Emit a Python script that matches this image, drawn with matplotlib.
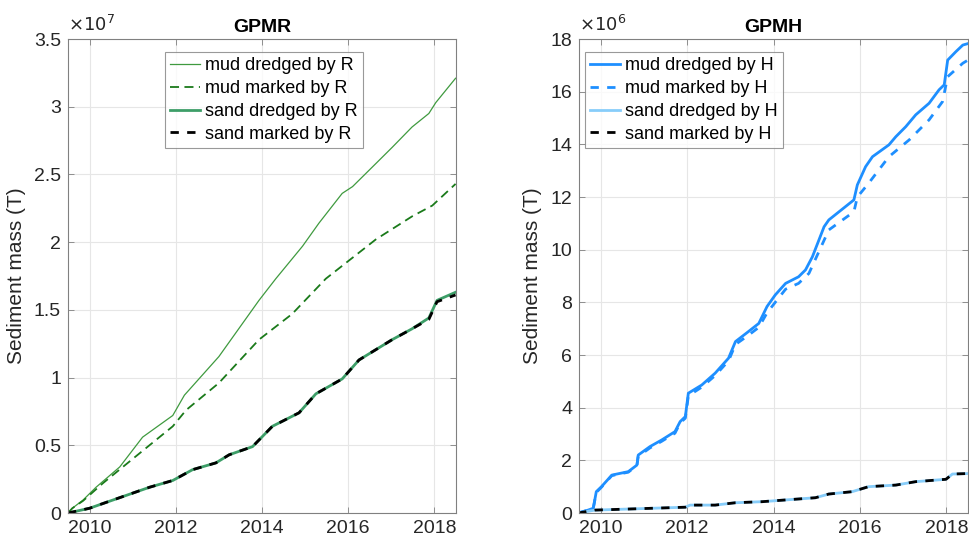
import matplotlib
matplotlib.use("Agg")
import matplotlib.pyplot as plt
import numpy as np

plt.rcParams['font.family'] = ['Liberation Sans', 'DejaVu Sans']

# ---------------- GPMR data (units of 1e7 T) ----------------
r_mud_dredged_t = [2009.5, 2009.6, 2009.85, 2010.15, 2010.7, 2011.23, 2011.93, 2012.2, 2013.0,
                   2013.93, 2014.32, 2014.94, 2015.32, 2015.86, 2016.1, 2016.64, 2017.02,
                   2017.48, 2017.87, 2018.03, 2018.49]
r_mud_dredged = [0, 0.035, 0.096, 0.19, 0.34, 0.56, 0.72, 0.87, 1.155,
                 1.57, 1.73, 1.97, 2.14, 2.36, 2.41, 2.58, 2.70,
                 2.85, 2.95, 3.03, 3.21]
r_mud_marked_t = [2009.5, 2009.6, 2009.85, 2010.31, 2011.08, 2011.93, 2012.24, 2013.0, 2013.93,
                  2014.7, 2015.48, 2016.64, 2017.48, 2017.95, 2018.49]
r_mud_marked = [0, 0.035, 0.09, 0.22, 0.42, 0.64, 0.76, 0.96, 1.28,
                1.47, 1.73, 2.02, 2.19, 2.27, 2.43]
r_sand_dredged_t = [2009.5, 2010.0, 2010.31, 2011.39, 2011.93, 2012.39, 2012.93, 2013.24, 2013.78,
                    2014.24, 2014.86, 2015.25, 2015.86, 2016.25, 2017.02, 2017.48, 2017.87,
                    2018.06, 2018.49]
r_sand_dredged = [0, 0.035, 0.07, 0.19, 0.24, 0.32, 0.37, 0.43, 0.49,
                  0.64, 0.74, 0.88, 0.99, 1.13, 1.28, 1.36, 1.44,
                  1.57, 1.63]
r_sand_marked = [0, 0.035, 0.07, 0.19, 0.24, 0.32, 0.37, 0.43, 0.49,
                 0.64, 0.74, 0.88, 0.99, 1.13, 1.28, 1.36, 1.43,
                 1.56, 1.61]

# ---------------- GPMH data (units of 1e6 T) ----------------
h_mud_dredged_t = [2009.48, 2009.71, 2009.83, 2009.9, 2010.02, 2010.26, 2010.64, 2010.84, 2010.87,
                   2011.14, 2011.41, 2011.72, 2011.84, 2011.96, 2012.03, 2012.34, 2012.65,
                   2012.96, 2013.12, 2013.42, 2013.66, 2013.85, 2014.04, 2014.28, 2014.58,
                   2014.74, 2014.9, 2015.17, 2015.28, 2015.86, 2015.94, 2016.13, 2016.29,
                   2016.67, 2016.83, 2017.06, 2017.29, 2017.6, 2017.83, 2017.95, 2018.03,
                   2018.22, 2018.38, 2018.53]
h_mud_dredged = [0, 0.11, 0.18, 0.81, 1.0, 1.44, 1.57, 1.82, 2.2,
                 2.52, 2.77, 3.09, 3.47, 3.66, 4.55, 4.86, 5.31,
                 5.88, 6.51, 6.89, 7.2, 7.84, 8.28, 8.72, 8.97,
                 9.23, 9.73, 10.87, 11.13, 11.89, 12.46, 13.15, 13.53,
                 13.98, 14.29, 14.67, 15.12, 15.56, 16.07, 16.26, 17.2,
                 17.52, 17.77, 17.84]
h_mud_marked_t = [2009.48, 2009.71, 2009.83, 2009.9, 2010.02, 2010.26, 2010.64, 2010.84, 2010.87,
                  2011.14, 2011.41, 2011.72, 2011.84, 2011.96, 2012.03, 2012.34, 2012.65,
                  2012.96, 2013.12, 2013.42, 2013.66, 2013.85, 2014.04, 2014.28, 2014.58,
                  2014.82, 2015.28, 2015.86, 2015.94, 2016.2, 2016.67, 2017.14, 2017.6,
                  2017.91, 2018.03, 2018.38, 2018.5]
h_mud_marked = [0, 0.11, 0.18, 0.78, 0.98, 1.42, 1.55, 1.8, 2.15,
                2.47, 2.72, 3.03, 3.42, 3.6, 4.45, 4.78, 5.22,
                5.78, 6.4, 6.75, 7.05, 7.6, 8.0, 8.5, 8.72,
                9.1, 10.75, 11.44, 12.0, 12.52, 13.53, 14.17, 14.93,
                15.62, 16.57, 17.08, 17.2]
h_sand_t = [2009.48, 2009.87, 2011.96, 2012.07, 2012.65, 2013.12, 2013.74, 2014.97, 2015.28,
            2015.82, 2016.2, 2016.83, 2017.29, 2017.99, 2018.14, 2018.53]
h_sand_dredged = [0, 0.11, 0.22, 0.30, 0.30, 0.39, 0.43, 0.58, 0.72,
                  0.81, 1.0, 1.06, 1.19, 1.28, 1.48, 1.50]
h_sand_marked = [0, 0.11, 0.22, 0.30, 0.30, 0.39, 0.43, 0.58, 0.72,
                 0.81, 1.0, 1.06, 1.19, 1.28, 1.48, 1.50]

x_ticks = [2010, 2012, 2014, 2016, 2018]
r_yticks = [0, 0.5, 1, 1.5, 2, 2.5, 3, 3.5]
r_ytick_labels = ['0', '0.5', '1', '1.5', '2', '2.5', '3', '3.5']
h_yticks = [0, 2, 4, 6, 8, 10, 12, 14, 16, 18]

fig = plt.figure(figsize=(9.69, 5.39), dpi=100)
ax1 = fig.add_axes([68/969, 26/539, 388/969, 474/539])
ax2 = fig.add_axes([579/969, 26/539, 389/969, 474/539])

axc = '#262626'

def style(ax):
    ax.grid(True, color='#e6e6e6', linewidth=0.8)
    ax.set_axisbelow(True)
    for s in ax.spines.values():
        s.set_color('#808080')
        s.set_linewidth(0.8)
    ax.tick_params(direction='in', top=True, right=True, length=4, width=0.6,
                   color='#808080', labelcolor=axc, labelsize=14, pad=5)
    ax.set_xticks(x_ticks)
    ax.set_xlim(2009.5, 2018.5)

leg_kw = dict(fontsize=13, frameon=True, fancybox=False, edgecolor='#808080',
              handlelength=1.65, handletextpad=0.25, borderpad=0.3, labelspacing=0.32,
              borderaxespad=0, loc='upper left')

# GPMR
ax1.plot(r_mud_dredged_t, r_mud_dredged, color='#3f9a3f', lw=0.9, label='mud dredged by R')
ax1.plot(r_mud_marked_t, r_mud_marked, color='#1a7a1a', lw=1.3, ls=(0, (5, 3)), label='mud marked by R')
ax1.plot(r_sand_dredged_t, r_sand_dredged, color='#3d9e68', lw=2.0, label='sand dredged by R')
ax1.plot(r_sand_dredged_t, r_sand_marked, color='black', lw=2.0, ls=(0, (3, 3)), label='sand marked by R')
style(ax1)
ax1.set_ylim(0, 3.5)
ax1.set_yticks(r_yticks)
ax1.set_yticklabels(r_ytick_labels)
ax1.set_title('GPMR', fontsize=14, fontweight='bold', color='black', pad=5)
ax1.set_ylabel('Sediment mass (T)', fontsize=15, color=axc, labelpad=6)
ax1.text(0.0, 1.008, r'$\times10^{7}$', transform=ax1.transAxes, fontsize=13, color=axc,
         ha='left', va='bottom', family='DejaVu Sans')
leg1 = ax1.legend(bbox_to_anchor=(97/388, 1 - 13/474), **leg_kw)
leg1.get_frame().set_linewidth(0.8)

# GPMH
ax2.plot(h_mud_dredged_t, h_mud_dredged, color='#1e8fff', lw=2.0, label='mud dredged by H')
ax2.plot(h_mud_marked_t, h_mud_marked, color='#1e8fff', lw=2.0, ls=(0, (3, 3)), label='mud marked by H')
ax2.plot(h_sand_t, h_sand_dredged, color='#87cdfa', lw=2.0, label='sand dredged by H')
ax2.plot(h_sand_t, h_sand_marked, color='black', lw=2.0, ls=(0, (3, 3)), label='sand marked by H')
style(ax2)
ax2.set_ylim(0, 18)
ax2.set_yticks(h_yticks)
ax2.set_title('GPMH', fontsize=14, fontweight='bold', color='black', pad=5)
ax2.set_ylabel('Sediment mass (T)', fontsize=15, color=axc, labelpad=6)
ax2.text(0.0, 1.008, r'$\times10^{6}$', transform=ax2.transAxes, fontsize=13, color=axc,
         ha='left', va='bottom', family='DejaVu Sans')
leg2 = ax2.legend(bbox_to_anchor=(6/389, 1 - 13/474), **leg_kw)
leg2.get_frame().set_linewidth(0.8)

fig.savefig('out.png', dpi=100)
